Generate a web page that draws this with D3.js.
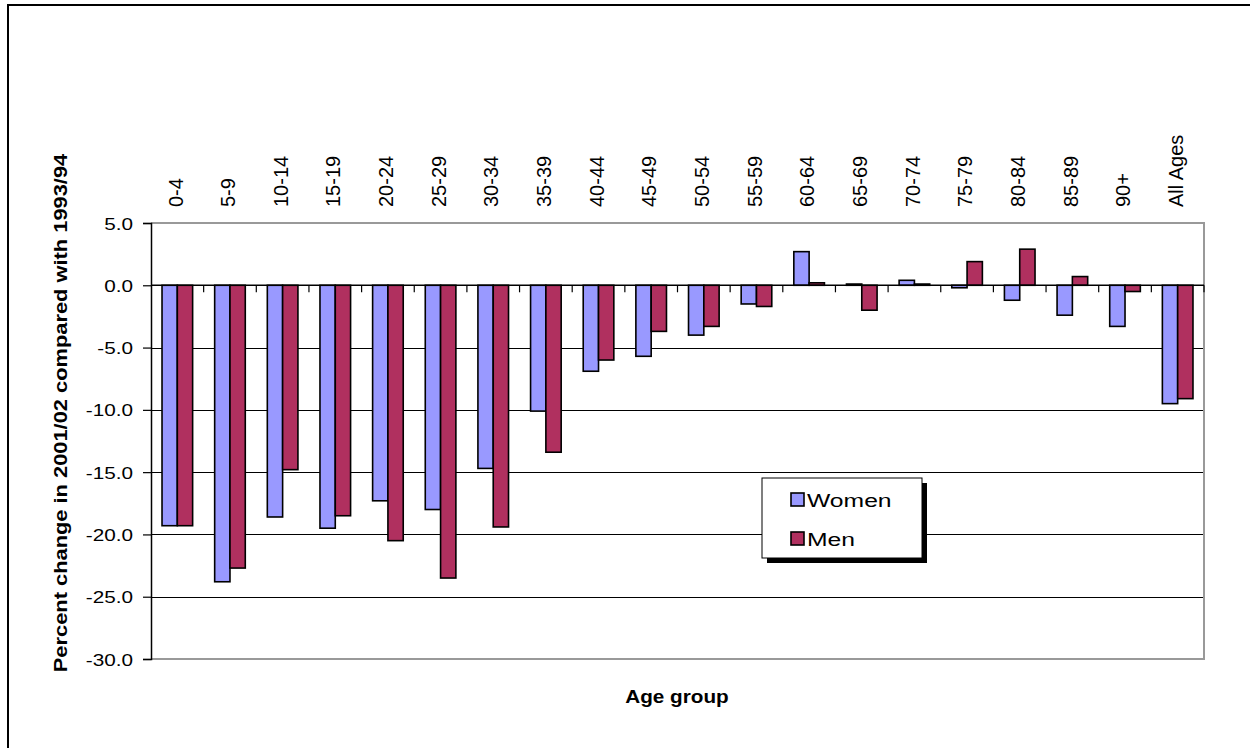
<!DOCTYPE html>
<html>
<head>
<meta charset="utf-8">
<script src="https://cdn.jsdelivr.net/npm/d3@7"></script>
<style>
  html, body { margin: 0; padding: 0; background: #fff; }
  svg { display: block; }
  text { font-family: "Liberation Sans", Arial, sans-serif; fill: #000; }
</style>
</head>
<body>
<svg id="chart" width="1250" height="748"></svg>
<script>
// Percent change in 2001/02 compared with 1993/94, by age group
const ageGroups = ["0-4", "5-9", "10-14", "15-19", "20-24", "25-29", "30-34", "35-39",
  "40-44", "45-49", "50-54", "55-59", "60-64", "65-69", "70-74", "75-79",
  "80-84", "85-89", "90+", "All Ages"];
const women = [-19.3, -23.8, -18.6, -19.5, -17.3, -18.0, -14.7, -10.1,
  -6.9, -5.7, -4.0, -1.5, 2.7, 0.1, 0.4, -0.2, -1.2, -2.4, -3.3, -9.5];
const men = [-19.3, -22.7, -14.8, -18.5, -20.5, -23.5, -19.4, -13.4,
  -6.0, -3.7, -3.3, -1.7, 0.2, -2.0, 0.1, 1.9, 2.9, 0.7, -0.5, -9.1];
const seriesNames = ["Women", "Men"];
const seriesColors = ["#9999FF", "#B0305F"];
const yTicks = [5, 0, -5, -10, -15, -20, -25, -30];

const svg = d3.select("#chart");
const plot = { left: 151, right: 1204, top: 223, bottom: 659 };

// outer chart frame (only its top and left edges fall inside the page)
svg.append("rect")
  .attr("x", 8).attr("y", 5).attr("width", 1400).attr("height", 900)
  .attr("fill", "none").attr("stroke", "#000").attr("stroke-width", 2);

const x0 = d3.scaleBand().domain(ageGroups).range([plot.left, plot.right]).padding(0);
const x1 = d3.scaleBand().domain(seriesNames).range([0, x0.bandwidth()])
  .paddingInner(0).paddingOuter(0.72);
const y = d3.scaleLinear().domain([-30, 5]).range([plot.bottom, plot.top]);

// horizontal gridlines
svg.append("g")
  .selectAll("line")
  .data(yTicks.filter(v => v < 5 && v > -30 && v !== 0))
  .join("line")
  .attr("x1", plot.left).attr("x2", plot.right)
  .attr("y1", d => Math.round(y(d)) + 0.5).attr("y2", d => Math.round(y(d)) + 0.5)
  .attr("stroke", "#000").attr("stroke-width", 1);

// plot-area border (top, right, bottom)
svg.append("path")
  .attr("d", `M${plot.left},${plot.top}H${plot.right}V${plot.bottom}H${plot.left}`)
  .attr("fill", "none").attr("stroke", "#999").attr("stroke-width", 2);

// bars
const groups = svg.append("g")
  .selectAll("g")
  .data(ageGroups)
  .join("g")
  .attr("transform", d => `translate(${x0(d)},0)`);

groups.selectAll("rect")
  .data((d, i) => seriesNames.map((s, j) => ({ s, j, v: j === 0 ? women[i] : men[i] })))
  .join("rect")
  .attr("x", d => x1(d.s))
  .attr("width", x1.bandwidth())
  .attr("y", d => y(Math.max(0, d.v)))
  .attr("height", d => Math.abs(y(d.v) - y(0)))
  .attr("fill", d => seriesColors[d.j])
  .attr("stroke", "#000").attr("stroke-width", 1.6);

// y axis
const yAxis = d3.axisLeft(y).tickValues(yTicks).tickFormat(d3.format(".1f"))
  .tickSize(8).tickPadding(0);
const yG = svg.append("g").attr("transform", `translate(${plot.left},0)`).call(yAxis);
yG.select(".domain").attr("stroke", "#000").attr("stroke-width", 1.5);
yG.selectAll(".tick line").attr("stroke", "#000").attr("stroke-width", 1.2);
yG.selectAll(".tick text").text(null);
yG.selectAll(".tick").append("text")
  .attr("text-anchor", "end")
  .attr("font-size", 17)
  .attr("dy", "0.36em")
  .attr("transform", "translate(-18,0) scale(1.22,1)")
  .text(d => d3.format(".1f")(d).replace("−", "-"));

// x axis along zero line with ticks between categories
svg.append("line")
  .attr("x1", plot.left).attr("x2", plot.right)
  .attr("y1", y(0)).attr("y2", y(0))
  .attr("stroke", "#000").attr("stroke-width", 1.5);
svg.append("g")
  .selectAll("line")
  .data(d3.range(1, ageGroups.length + 1))
  .join("line")
  .attr("x1", i => plot.left + i * x0.step()).attr("x2", i => plot.left + i * x0.step())
  .attr("y1", y(0)).attr("y2", y(0) + 7)
  .attr("stroke", "#000").attr("stroke-width", 1.2);

// category labels above the plot, rotated
svg.append("g")
  .selectAll("text")
  .data(ageGroups)
  .join("text")
  .attr("transform", d => `translate(${x0(d) + x0.bandwidth() / 2 - 2},207) rotate(-90)`)
  .attr("dy", "0.36em")
  .attr("text-anchor", "start")
  .attr("font-size", 20)
  .text(d => d);

// axis titles
svg.append("text")
  .attr("transform", "translate(60,413) rotate(-90) scale(1.15,1)")
  .attr("dy", "0.36em")
  .attr("text-anchor", "middle")
  .attr("font-size", 19).attr("font-weight", "bold")
  .text("Percent change in 2001/02 compared with 1993/94");

svg.append("text")
  .attr("transform", "translate(677,703) scale(1.15,1)")
  .attr("text-anchor", "middle")
  .attr("font-size", 18).attr("font-weight", "bold")
  .text("Age group");

// legend
const lg = svg.append("g").attr("transform", "translate(762,478)");
lg.append("rect").attr("x", 5).attr("y", 5).attr("width", 160).attr("height", 80).attr("fill", "#000");
lg.append("rect").attr("x", 0).attr("y", 0).attr("width", 160).attr("height", 80)
  .attr("fill", "#fff").attr("stroke", "#000").attr("stroke-width", 1);
seriesNames.forEach((s, i) => {
  const row = lg.append("g").attr("transform", `translate(0,${i * 39})`);
  row.append("rect").attr("x", 29).attr("y", 15).attr("width", 13).attr("height", 13)
    .attr("fill", seriesColors[i]).attr("stroke", "#000").attr("stroke-width", 1.6);
  row.append("text")
    .attr("transform", "translate(45,29) scale(1.3,1)")
    .attr("font-size", 19)
    .text(s);
});
</script>
</body>
</html>
